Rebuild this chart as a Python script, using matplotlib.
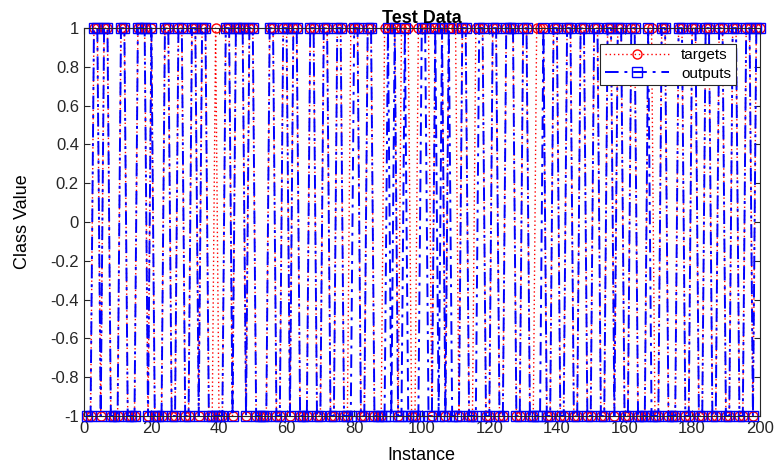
"""
Test data: targets vs outputs (MATLAB-style classification plot)
"""
import matplotlib
matplotlib.use('Agg')
import matplotlib.pyplot as plt

plt.rcParams['font.family'] = ['Liberation Sans', 'DejaVu Sans']

# instance index 1..200
instances = list(range(1, 201))

targets = [
    -1, -1, 1, 1, -1, 1, 1, -1, -1, -1,
    1, 1, -1, -1, -1, 1, 1, 1, -1, 1,
    -1, -1, -1, 1, 1, -1, -1, 1, 1, -1,
    -1, 1, 1, -1, 1, 1, -1, -1, 1, -1,
    -1, 1, 1, -1, 1, 1, 1, -1, 1, 1,
    -1, -1, -1, -1, 1, 1, -1, -1, 1, 1,
    -1, 1, 1, -1, -1, -1, 1, 1, -1, -1,
    1, 1, -1, -1, 1, 1, -1, -1, 1, 1,
    1, -1, -1, 1, 1, -1, -1, -1, 1, 1,
    1, 1, -1, 1, 1, 1, -1, -1, 1, 1,
    1, 1, -1, 1, 1, 1, -1, 1, 1, 1,
    -1, 1, 1, -1, -1, 1, 1, 1, -1, -1,
    1, 1, -1, -1, 1, 1, 1, -1, -1, 1,
    1, -1, -1, 1, 1, 1, -1, -1, 1, 1,
    -1, -1, 1, 1, -1, -1, 1, 1, -1, -1,
    1, 1, -1, -1, 1, 1, -1, 1, 1, -1,
    -1, 1, 1, -1, -1, -1, 1, 1, -1, -1,
    1, 1, -1, -1, -1, 1, 1, -1, -1, 1,
    1, -1, -1, 1, 1, -1, -1, 1, 1, -1,
    -1, 1, 1, -1, -1, 1, 1, -1, 1, 1,
]

outputs = [
    -1, -1, 1, 1, -1, 1, 1, -1, -1, -1,
    1, 1, -1, -1, -1, 1, 1, 1, -1, 1,
    -1, -1, -1, 1, 1, -1, -1, 1, 1, -1,
    -1, 1, 1, -1, 1, 1, -1, -1, -1, -1,
    -1, 1, 1, -1, 1, 1, 1, -1, 1, 1,
    -1, -1, -1, -1, 1, 1, -1, -1, 1, 1,
    -1, 1, 1, -1, -1, -1, 1, 1, -1, -1,
    1, 1, -1, -1, 1, 1, -1, -1, -1, 1,
    1, -1, -1, 1, 1, -1, -1, -1, -1, 1,
    -1, 1, -1, -1, 1, -1, -1, -1, -1, 1,
    1, -1, -1, 1, -1, 1, -1, 1, -1, -1,
    -1, 1, 1, -1, -1, -1, 1, 1, -1, -1,
    1, 1, -1, -1, 1, 1, 1, -1, -1, 1,
    1, -1, -1, -1, -1, 1, -1, -1, 1, 1,
    -1, -1, 1, 1, -1, -1, 1, 1, -1, -1,
    1, 1, -1, -1, 1, 1, -1, 1, 1, -1,
    -1, 1, 1, -1, -1, -1, 1, -1, -1, -1,
    1, 1, -1, -1, -1, 1, 1, -1, -1, 1,
    1, -1, -1, 1, 1, -1, -1, 1, 1, -1,
    -1, 1, 1, -1, -1, 1, 1, -1, 1, 1,
]

xticks = list(range(0, 201, 20))
yticks = [-1, -0.8, -0.6, -0.4, -0.2, 0, 0.2, 0.4, 0.6, 0.8, 1]
ytick_labels = ['-1', '-0.8', '-0.6', '-0.4', '-0.2', '0', '0.2', '0.4', '0.6', '0.8', '1']

fig = plt.figure(figsize=(7.76, 4.69), dpi=100)
ax = fig.add_axes([0.108, 0.113, 0.871, 0.827])

ax.plot(instances, targets, linestyle=(0, (1, 2)), color='red', marker='o',
        markersize=6.5, markerfacecolor='none', linewidth=1, label='targets',
        clip_on=False)
ax.plot(instances, outputs, linestyle=(0, (7, 3, 1.5, 3)), color='blue', marker='s',
        markersize=6.5, markerfacecolor='none', linewidth=1.4, label='outputs',
        clip_on=False)

ax.set_xlim(0, 200)
ax.set_ylim(-1, 1)
ax.set_xticks(xticks)
ax.set_yticks(yticks)
ax.set_yticklabels(ytick_labels)
ax.tick_params(direction='in', length=4, labelsize=12, colors='#262626',
               top=True, right=True)
for s in ax.spines.values():
    s.set_color('#262626')
    s.set_linewidth(0.8)

ax.set_title('Test Data', fontsize=13, fontweight='bold', pad=4)
ax.set_xlabel('Instance', fontsize=13, labelpad=8)
ax.set_ylabel('Class Value', fontsize=13, labelpad=14)

leg = ax.legend(loc='upper right', bbox_to_anchor=(0.976, 0.98), fontsize=11,
                fancybox=False, framealpha=1, edgecolor='#262626',
                handlelength=4.2, borderpad=0.3, labelspacing=0.3)
leg.get_frame().set_linewidth(0.8)

fig.savefig('out.png', dpi=100)
plt.close(fig)
